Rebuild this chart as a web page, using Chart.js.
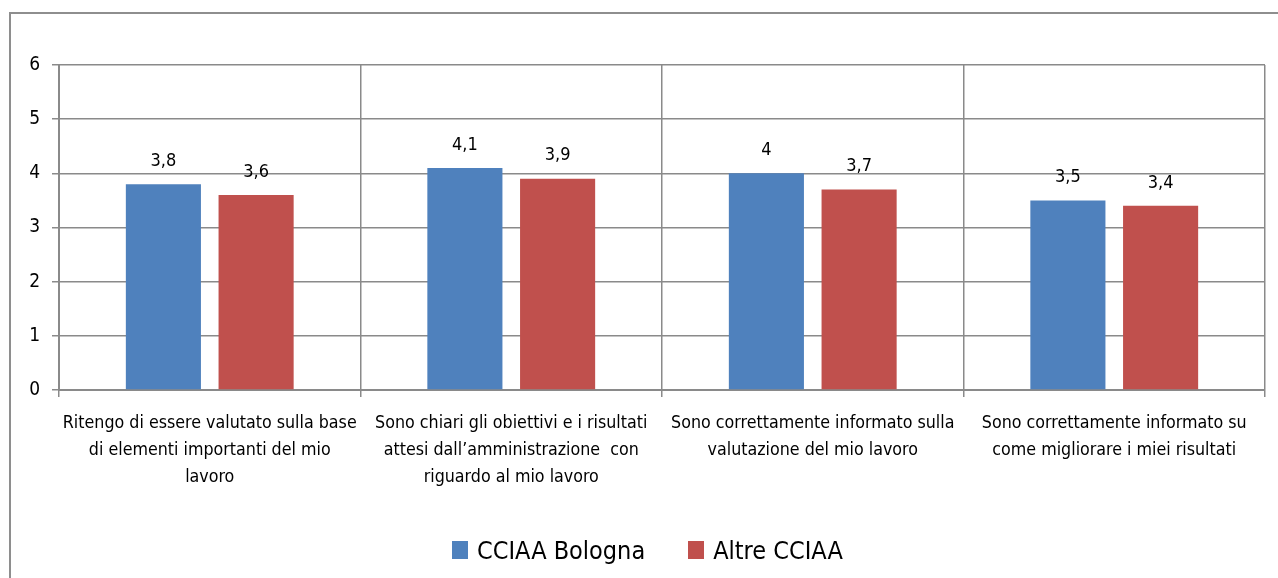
<!DOCTYPE html>
<html>
<head>
<meta charset="utf-8">
<script src="https://cdn.jsdelivr.net/npm/chart.js@4"></script>
<style>
  html, body { margin: 0; padding: 0; background: #fff; }
  #wrap { position: relative; width: 1278px; height: 578px; overflow: hidden;
          font-family: "DejaVu Sans Condensed", "Liberation Sans Narrow", sans-serif; }
  #frame { position: absolute; left: 9px; top: 12px; width: 1400px; height: 700px;
           border-left: 2px solid #8e8e8e; border-top: 2px solid #8e8e8e; box-sizing: border-box; }
  canvas { position: absolute; left: 0; top: 0; }
  #legenda { position: absolute; left: 452px; top: 533px; height: 34px; display: flex; align-items: center;
             font-size: 25px; color: #000; white-space: nowrap; }
  .voce { display: flex; align-items: center; }
  .voce + .voce { margin-left: 43px; }
  .box { width: 16px; height: 18px; margin-right: 9px; }
</style>
</head>
<body>
<div id="wrap">
  <div id="frame"></div>
  <canvas id="grafico" width="1278" height="578"></canvas>
  <div id="legenda"></div>
</div>
<script>
// --- DATI ---
const categorie = [
    ['Ritengo di essere valutato sulla base', 'di elementi importanti del mio', 'lavoro'],
    ['Sono chiari gli obiettivi e i risultati', 'attesi dall\u2019amministrazione  con', 'riguardo al mio lavoro'],
    ['Sono correttamente informato sulla', 'valutazione del mio lavoro'],
    ['Sono correttamente informato su', 'come migliorare i miei risultati']
];
const serieNomi = ['CCIAA Bologna', 'Altre CCIAA'];
const valoriBologna = [3.8, 4.1, 4.0, 3.5];
const valoriAltre = [3.6, 3.9, 3.7, 3.4];
const tickY = [0, 1, 2, 3, 4, 5, 6];
const colori = ['#4f81bd', '#c0504d'];

const FONT = '"DejaVu Sans Condensed", "Liberation Sans Narrow", sans-serif';

// etichette sopra le barre (virgola decimale)
const etichetteValori = {
    id: 'etichetteValori',
    afterDatasetsDraw(chart) {
        const ctx = chart.ctx;
        ctx.save();
        ctx.font = '18px ' + FONT;
        ctx.fillStyle = '#000';
        ctx.textAlign = 'center';
        ctx.textBaseline = 'bottom';
        chart.data.datasets.forEach((ds, i) => {
            chart.getDatasetMeta(i).data.forEach((bar, j) => {
                const testo = String(ds.data[j]).replace('.', ',');
                ctx.fillText(testo, bar.x, bar.y - 14);
            });
        });
        ctx.restore();
    }
};

const grafico = new Chart(document.getElementById('grafico'), {
    type: 'bar',
    data: {
        labels: categorie,
        datasets: [
            { label: serieNomi[0], data: valoriBologna, backgroundColor: colori[0] },
            { label: serieNomi[1], data: valoriAltre, backgroundColor: colori[1] }
        ]
    },
    options: {
        responsive: false,
        animation: false,
        layout: { padding: { top: 65, right: 13, left: 0, bottom: 68 } },
        categoryPercentage: 0.615,
        barPercentage: 0.81,
        scales: {
            x: {
                grid: { offset: true, color: '#8a8a8a', lineWidth: 1.5, tickLength: 7 },
                border: { color: '#8a8a8a', width: 2 },
                ticks: {
                    color: '#000',
                    font: { family: FONT, size: 17.7, lineHeight: 1.53 },
                    maxRotation: 0, autoSkip: false, padding: 13
                },
                afterFit: (scale) => { scale.height = 120; }
            },
            y: {
                min: 0, max: 6,
                afterBuildTicks: (scale) => { scale.ticks = tickY.map(v => ({ value: v })); },
                grid: { color: '#8a8a8a', lineWidth: 1.5, tickLength: 7 },
                border: { color: '#8a8a8a', width: 2 },
                ticks: { color: '#000', font: { family: FONT, size: 19 }, padding: 12 },
                afterFit: (scale) => { scale.width = 59; }
            }
        },
        plugins: {
            legend: { display: false },
            tooltip: { enabled: false }
        }
    },
    plugins: [etichetteValori]
});

// legenda HTML costruita dai dataset
const legenda = document.getElementById('legenda');
grafico.data.datasets.forEach(ds => {
    const voce = document.createElement('div');
    voce.className = 'voce';
    voce.innerHTML = `<span class="box" style="background:${ds.backgroundColor}"></span><span>${ds.label}</span>`;
    legenda.appendChild(voce);
});
</script>
</body>
</html>
